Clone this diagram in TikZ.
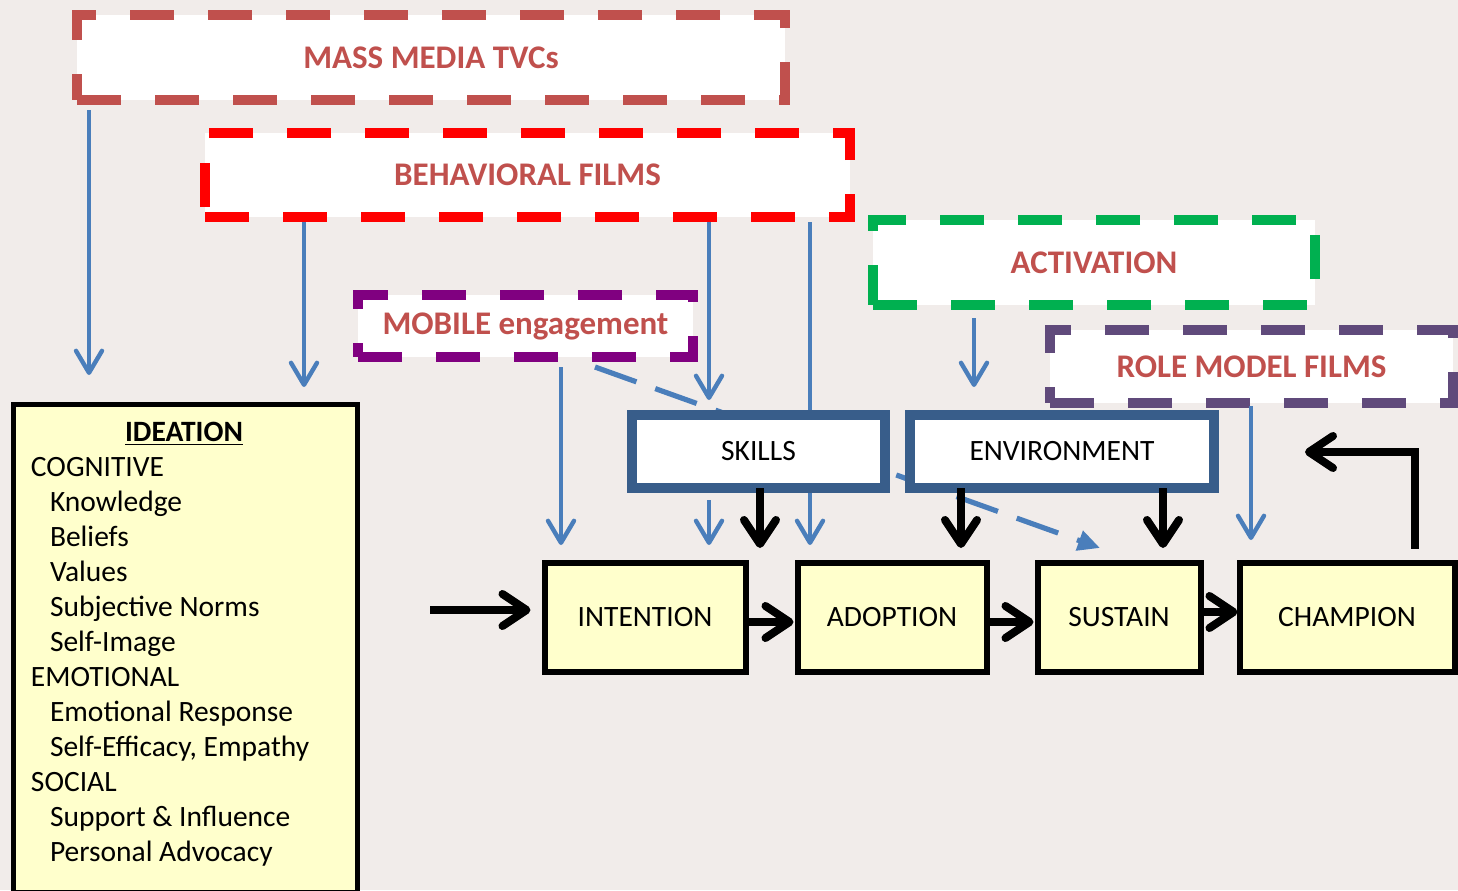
\documentclass[tikz,border=0pt]{standalone}
\usepackage{fontspec}
\setmainfont{Carlito}
\usetikzlibrary{arrows.meta,calc}
\pgfdeclarelayer{background}
\pgfsetlayers{background,main}
\definecolor{bgcolor}{RGB}{241,236,234}
\definecolor{titlered}{RGB}{192,80,77}
\definecolor{filmred}{RGB}{255,0,0}
\definecolor{actgreen}{RGB}{0,176,80}
\definecolor{mobpurple}{RGB}{128,0,128}
\definecolor{rolepurple}{RGB}{96,74,123}
\definecolor{factorblue}{RGB}{56,93,138}
\definecolor{arrowblue}{RGB}{74,126,187}
\definecolor{stageyellow}{RGB}{255,255,204}
\begin{document}
\begin{tikzpicture}[x=0.5pt, y=-0.5pt,
	every node/.style={inner sep=0pt, outer sep=0pt},
	media/.style={draw=#1, fill=white, line width=5pt, dash pattern=on 22pt off 17pt,
		text=titlered, font=\fontsize{16.5}{19}\selectfont\bfseries},
	factor/.style={draw=factorblue, fill=white, line width=5.25pt,
		minimum height=36.5pt, font=\fontsize{14.75}{17.5}\selectfont},
	stage/.style={draw=black, fill=stageyellow, line width=3pt,
		minimum height=54.5pt, font=\fontsize{14.75}{17.5}\selectfont},
	bluearrow/.style={draw=arrowblue, line width=2.2pt, -{Straight Barb[length=11pt,width=13pt,round]}},
	blackarrow/.style={draw=black, line width=4pt, -{Straight Barb[length=12pt,width=16pt,round]}}]
	\useasboundingbox (0,0) rectangle (1458,890);
	\begin{pgfonlayer}{background}
		\fill[bgcolor] (0,0) rectangle (1458,890);
	\end{pgfonlayer}

	% media boxes
	\node[media=titlered, minimum width=354pt, minimum height=42.5pt] (mass) at (431,57.5) {MASS MEDIA TVCs};
	\node[media=filmred, minimum width=322.5pt, minimum height=42pt] (film) at (527.5,175) {BEHAVIORAL FILMS};
	\node[media=actgreen, minimum width=221pt, minimum height=42.5pt] (activation) at (1094,262.5) {ACTIVATION};
	\node[media=mobpurple, minimum width=167.5pt, minimum height=31pt] (mobile) at (525.5,326) {MOBILE engagement};
	\node[media=rolepurple, minimum width=201.5pt, minimum height=36.5pt] (rolemodel) at (1251.5,366.5) {ROLE MODEL FILMS};

	% factors and stages
	\node[factor, minimum width=126.5pt] (skills) at (758.5,451.5) {SKILLS};
	\node[factor, minimum width=152pt] (environment) at (1062,451.5) {ENVIRONMENT};
	\node[stage, minimum width=100.5pt] (intention) at (645,617) {INTENTION};
	\node[stage, minimum width=94.5pt] (adoption) at (892,617) {ADOPTION};
	\node[stage, minimum width=81.5pt] (sustain) at (1119,617) {SUSTAIN};
	\node[stage, minimum width=107.5pt] (champion) at (1347,617) {CHAMPION};

	% ideation
	\node[draw=black, fill=stageyellow, line width=2.5pt, minimum width=172pt, minimum height=244pt] (ideation) at (185,648) {};
	\node[anchor=base, font=\fontsize{14.75}{17.5}\selectfont\bfseries] (idea-title) at (184,441) {\underline{IDEATION}};
	\foreach \ind/\txt [count=\i] in {0/COGNITIVE, 1/Knowledge, 1/Beliefs, 1/Values, 1/Subjective Norms, 1/Self-Image,
			0/EMOTIONAL, 1/Emotional Response, 1/{Self-Efficacy, Empathy}, 0/SOCIAL, 1/Support \& Influence, 1/Personal Advocacy}
		\node[anchor=base west, font=\fontsize{14.75}{17.5}\selectfont] (idea-\i) at ({31+19*\ind}, {441+35*\i}) {\txt};

	% blue arrows
	\coordinate (c-tvc) at (89,0);
	\coordinate (c-film1) at (304,0);
	\coordinate (c-film2) at (709,0);
	\coordinate (c-film3) at (810,0);
	\coordinate (c-mob) at (561,0);
	\coordinate (c-act) at (974,0);
	\coordinate (c-role) at (1251,0);
	\draw[bluearrow, shorten <=5pt, shorten >=14.5pt] (mass.south -| c-tvc) -- (ideation.north -| c-tvc);
	\draw[bluearrow, shorten <=2.5pt, shorten >=8.5pt] (film.south -| c-film1) -- (ideation.north -| c-film1);
	\draw[bluearrow, shorten <=2.5pt, shorten >=7.5pt] (film.south -| c-film2) -- (skills.north -| c-film2);
	\draw[bluearrow, shorten <=5pt, shorten >=8.75pt] (mobile.south -| c-mob) -- (intention.north -| c-mob);
	\draw[bluearrow, shorten <=6pt, shorten >=8.75pt] (skills.south -| c-film2) -- (intention.north -| c-film2);
	\draw[bluearrow, shorten <=6.5pt, shorten >=14pt] (activation.south -| c-act) -- (environment.north -| c-act);
	\draw[bluearrow, shorten <=1.5pt, shorten >=11.25pt] (rolemodel.south -| c-role) -- (champion.north -| c-role);
	\begin{pgfonlayer}{background}
		\draw[bluearrow, shorten <=2.5pt, shorten >=8.75pt] (film.south -| c-film3) -- (adoption.north -| c-film3);
		\draw[arrowblue, line width=2.6pt, dash pattern=on 22pt off 10pt, -{Triangle[length=11pt,width=10pt]}]
			($(mobile.south)+(69.5,10)$) -- ($(sustain.north)+(-19,-14.5)$);
	\end{pgfonlayer}

	% black arrows
	\coordinate (c-skill) at (760,548);
	\coordinate (c-env1) at (961,0);
	\coordinate (c-env2) at (1163,0);
	\coordinate (c-start) at (430,610);
	\coordinate (c-up) at (1415,0);
	\coordinate (c-back) at (1305,452);
	\draw[blackarrow] (skills.south -| c-skill) -- (c-skill);
	\draw[blackarrow, shorten >=7.25pt] (environment.south -| c-env1) -- (adoption.north -| c-env1);
	\draw[blackarrow, shorten >=7.25pt] (environment.south -| c-env2) -- (sustain.north -| c-env2);
	\draw[blackarrow, shorten >=7pt] (c-start) -- (intention.west |- c-start);
	\draw[blackarrow, shorten >=2pt] ([yshift=-2.5pt]intention.east) -- ([yshift=-2.5pt]adoption.west);
	\draw[blackarrow, shorten >=2pt] ([yshift=-2.5pt]adoption.east) -- ([yshift=-2.5pt]sustain.west);
	\draw[blackarrow, shorten >=1pt] ([yshift=2.5pt]sustain.east) -- ([yshift=2.5pt]champion.west);
	\draw[blackarrow, shorten <=7pt] (champion.north -| c-up) |- (c-back);
\end{tikzpicture}
\end{document}
